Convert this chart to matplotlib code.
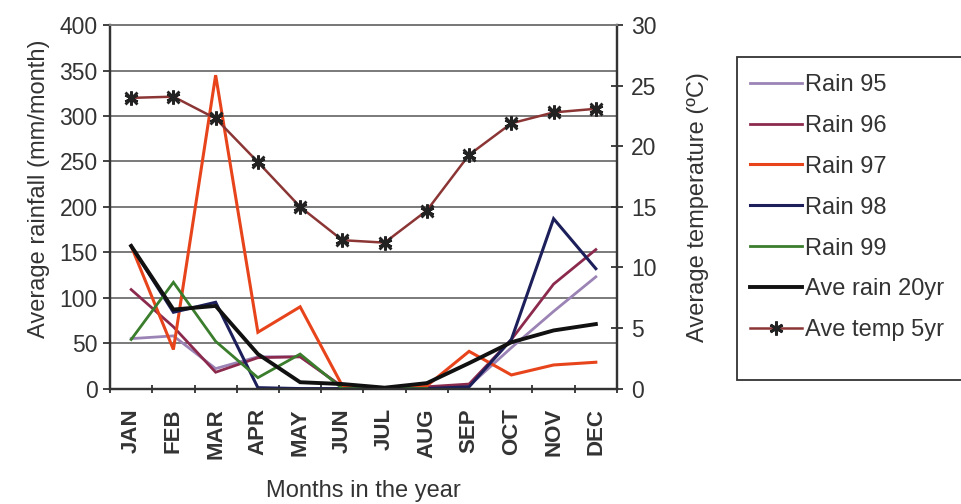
import numpy as np
import matplotlib
matplotlib.use("Agg")
import matplotlib.pyplot as plt
from matplotlib.patches import Rectangle

plt.rcParams['font.family'] = ['Liberation Sans', 'DejaVu Sans']

# ---------------- data ----------------
months = ["JAN", "FEB", "MAR", "APR", "MAY", "JUN",
          "JUL", "AUG", "SEP", "OCT", "NOV", "DEC"]

rain_95 = [55, 58, 22, 35, 35, 2, 0, 0, 3, 45, 85, 123]
rain_96 = [109, 68, 18, 34, 35, 2, 0, 2, 5, 54, 115, 153]
rain_97 = [157, 43, 345, 62, 90, 3, 0, 3, 41, 15, 26, 29]
rain_98 = [157, 84, 95, 1, 0, 0, 0, 0, 2, 54, 187, 132]
rain_99 = [54, 117, 52, 12, 38, 0, 0, 0, np.nan, np.nan, np.nan, np.nan]
ave_rain_20yr = [157, 87, 91, 38, 7, 5, 1, 6, 28, 51, 64, 71]
ave_temp_5yr = [24.0, 24.1, 22.3, 18.7, 15.0, 12.25, 12.05, 14.7, 19.3, 21.9, 22.8, 23.1]

rain_series = [
    ("Rain 95", rain_95, "#9b84b5", 2.0),
    ("Rain 96", rain_96, "#8c2a4e", 2.0),
    ("Rain 97", rain_97, "#e8441c", 2.2),
    ("Rain 98", rain_98, "#1c1f5a", 2.2),
    ("Rain 99", rain_99, "#3a7d2c", 2.0),
    ("Ave rain 20yr", ave_rain_20yr, "#111111", 2.8),
]

TXT = "#333333"

# ---------------- figure ----------------
fig = plt.figure(figsize=(9.61, 5.04), dpi=100)
ax = fig.add_axes([0.1145, 0.229, 0.5275, 0.721])
ax2 = ax.twinx()

x = np.arange(len(months))
handles = []
for name, vals, col, lw in rain_series:
    h, = ax.plot(x, vals, color=col, lw=lw, label=name, solid_joinstyle="miter")
    handles.append(h)

ht, = ax2.plot(x, ave_temp_5yr, color="#8b3535", lw=1.8, marker=(6, 2, 0),
               markersize=10, markeredgecolor="#222222", markeredgewidth=2.0,
               label="Ave temp 5yr")
ax2.plot(x, ave_temp_5yr, ls="none", marker="x", markersize=9,
         markeredgecolor="#222222", markeredgewidth=2.0)
handles.append(ht)

# axes ranges
ax.set_xlim(-0.5, 11.5)
ax.set_ylim(0, 400)
ax2.set_ylim(0, 30)

ax.set_yticks(np.arange(0, 401, 50))
ax2.set_yticks(np.arange(0, 31, 5))
ax.yaxis.grid(True, color="#7a7a7a", lw=1.4)
ax.set_axisbelow(True)

ax.set_xticks(x)
ax.set_xticklabels(months, rotation=90, fontsize=16, fontweight="bold",
                   color=TXT)
ax.set_xticks(np.arange(-0.5, 12, 1), minor=True)
ax.tick_params(axis="x", which="major", length=0, pad=14)
ax.tick_params(axis="x", which="minor", length=6, width=1.3, direction="inout",
               color=TXT)
ax.tick_params(axis="y", labelsize=16.5, length=5, width=1.3, color=TXT,
               labelcolor=TXT, pad=4)
ax2.tick_params(axis="y", labelsize=16.5, length=8, width=1.3, direction="inout",
                color=TXT, labelcolor=TXT, pad=6)

for a in (ax, ax2):
    for s in a.spines.values():
        s.set_color(TXT)
        s.set_linewidth(1.6)
    a.spines["top"].set_color("#7a7a7a")
    a.spines["top"].set_linewidth(1.4)

ax.set_ylabel("Average rainfall (mm/month)", fontsize=17, color=TXT)
ax.yaxis.set_label_coords(-0.118, 0.55)
ax2.set_ylabel("Average temperature (\u00baC)", fontsize=17, color=TXT)
ax2.yaxis.set_label_coords(1.138, 0.50)
ax.set_xlabel("Months in the year", fontsize=17, color=TXT)
ax.xaxis.set_label_coords(0.5, -0.252)

# legend box runs off the right edge of the picture, as in the original
fig.patches.append(Rectangle((737 / 961, 1 - 380 / 504), 240 / 961, 323 / 504,
                             transform=fig.transFigure, facecolor="white",
                             edgecolor=TXT, lw=1.3, zorder=1))
leg = fig.legend(handles=handles, loc="upper left",
                 bbox_to_anchor=(737 / 961, 1 - 61 / 504),
                 fontsize=17, frameon=False,
                 handlelength=2.2, handletextpad=0.15, labelspacing=0.8,
                 borderpad=0.55, borderaxespad=0)
leg.set_zorder(2)
for t in leg.get_texts():
    t.set_color(TXT)

fig.savefig("out.png", dpi=100)
